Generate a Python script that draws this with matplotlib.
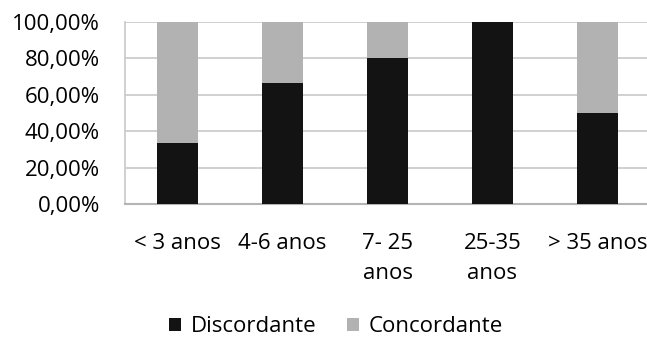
import matplotlib.pyplot as plt
from matplotlib.ticker import FuncFormatter

# Data
categories = ['< 3 anos', '4-6 anos', '7- 25\nanos', '25-35\nanos', '> 35 anos']
discordante = [33.33, 66.67, 80.0, 100.0, 50.0]
concordante = [66.67, 33.33, 20.0, 0.0, 50.0]
yticks = [0, 20, 40, 60, 80, 100]

plt.rcParams['font.family'] = ['Open Sans', 'DejaVu Sans']

fig = plt.figure(figsize=(6.47, 3.37), dpi=100)
ax = fig.add_axes([125 / 647, 133 / 337, 525 / 647, 182 / 337])

x = range(len(categories))
ax.bar(x, discordante, width=0.39, color='#131313', label='Discordante', zorder=3)
ax.bar(x, concordante, width=0.39, bottom=discordante, color='#b2b2b2',
       label='Concordante', zorder=3)

ax.set_xlim(-0.5, len(categories) - 0.5)
ax.set_ylim(0, 100)
ax.set_yticks(yticks)
ax.yaxis.set_major_formatter(FuncFormatter(lambda v, p: f'{v:.2f}%'.replace('.', ',')))
ax.set_xticks(list(x))
ax.set_xticklabels(categories, linespacing=1.55)

ax.grid(axis='y', color='#c8c8c8', linewidth=1.2, zorder=0)
for s in ['top', 'right']:
    ax.spines[s].set_visible(False)
ax.spines['left'].set_color('#c8c8c8')
ax.spines['bottom'].set_color('#b4b4b4')
ax.spines['left'].set_linewidth(1.2)
ax.spines['bottom'].set_linewidth(1.5)
ax.tick_params(length=0, labelsize=16, pad=18)
ax.tick_params(axis='x', pad=21)

fig.legend(loc='center', bbox_to_anchor=(336 / 647, 10 / 337), ncol=2, frameon=False,
           fontsize=16, handlelength=0.55, handleheight=0.55, columnspacing=1.35,
           handletextpad=0.45)

fig.savefig('out.png', dpi=100)
